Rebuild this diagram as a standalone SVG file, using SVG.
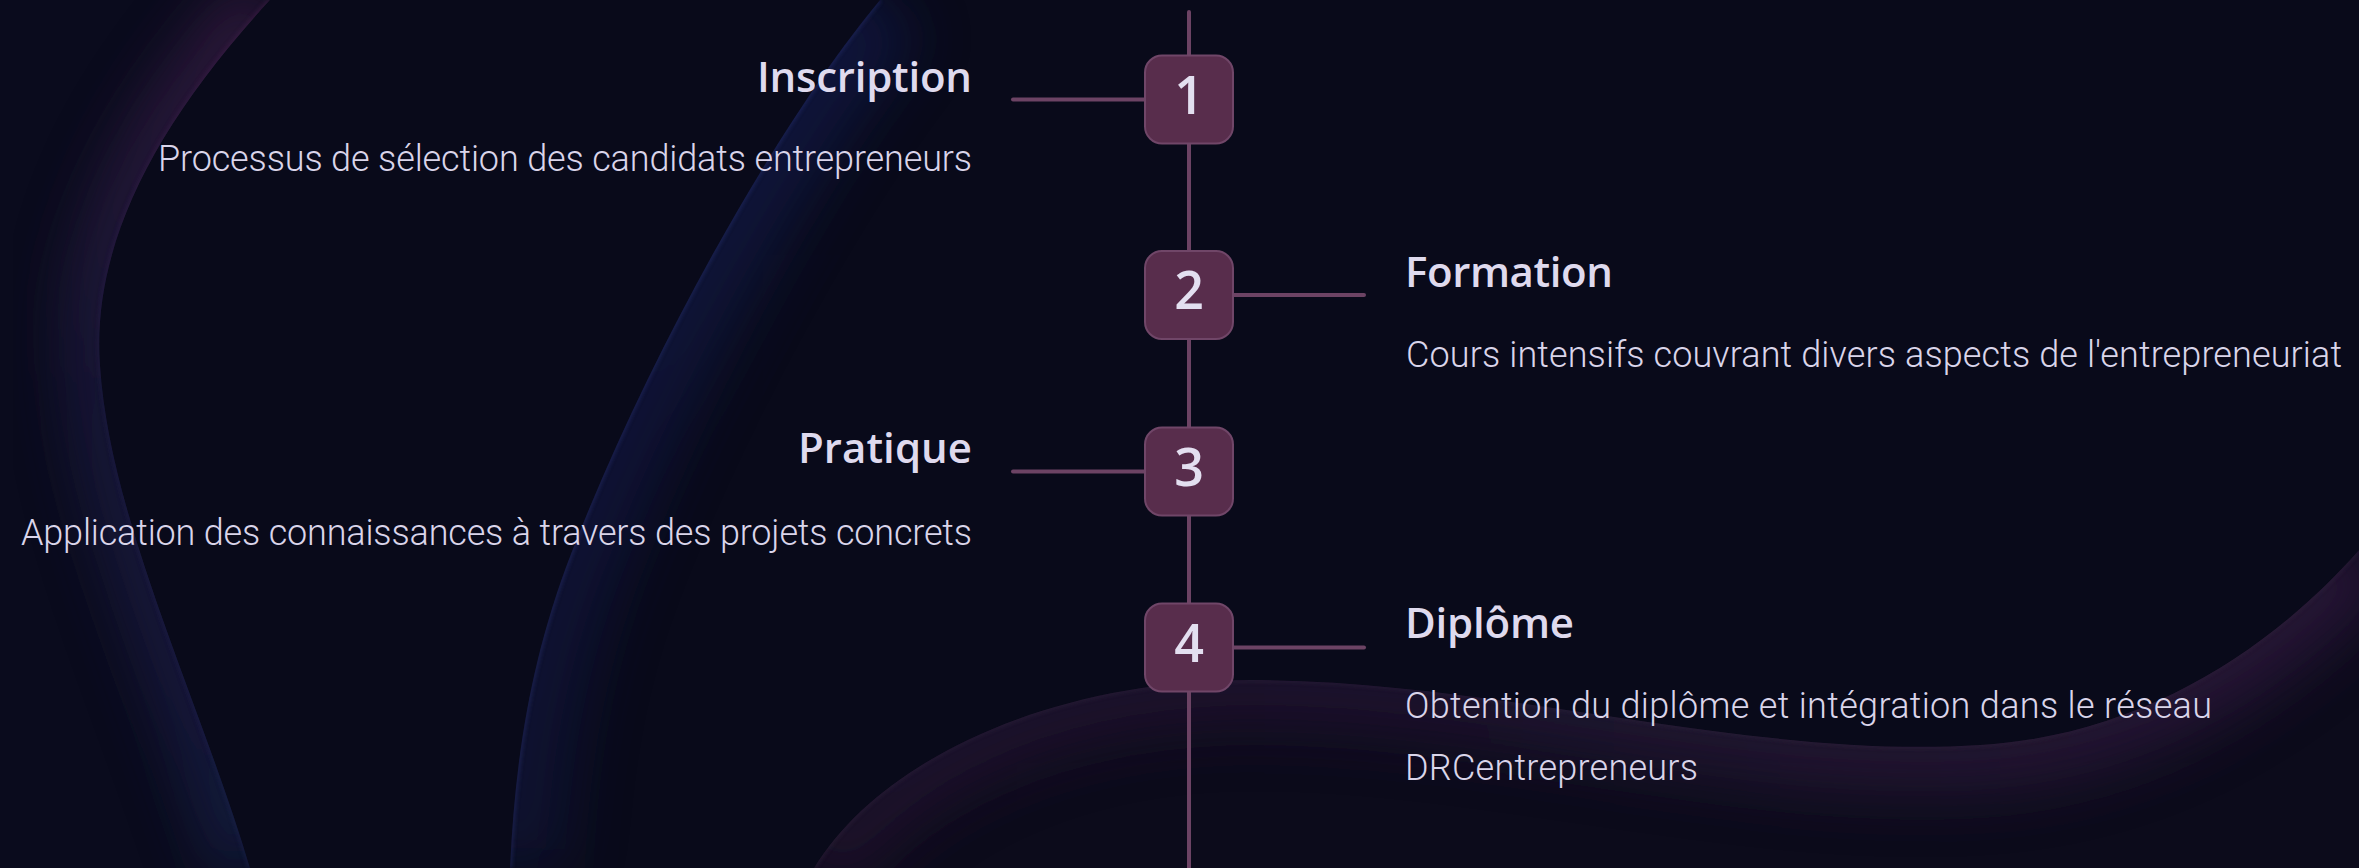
<svg xmlns="http://www.w3.org/2000/svg" width="2359" height="868" viewBox="0 0 2359 868">
<defs>
<style>
.title{font-family:"Open Sans","Liberation Sans",sans-serif;font-weight:600;font-size:42px;fill:#dfdaee}
.desc{font-family:"Roboto","Open Sans",sans-serif;font-weight:300;font-size:36px;fill:#dad5ea}
.num{font-family:"Open Sans","Liberation Sans",sans-serif;font-weight:600;font-size:52px;fill:#e3dff0;text-anchor:middle}
.box{fill:#582d4c;stroke:#704668;stroke-width:2}
.conn{stroke:#6c4364;stroke-width:4;stroke-linecap:round;fill:none}
</style>
<filter id="blurL" x="-50%" y="-50%" width="200%" height="200%"><feGaussianBlur stdDeviation="30"/></filter>
<filter id="blurS" x="-50%" y="-50%" width="200%" height="200%"><feGaussianBlur stdDeviation="2"/></filter>
<linearGradient id="gLeft" x1="0" y1="0" x2="0" y2="1">
<stop offset="0" stop-color="#4a2450"/>
<stop offset="0.45" stop-color="#231f4c"/>
<stop offset="1" stop-color="#1e2654"/>
</linearGradient>
<linearGradient id="gMid" x1="0" y1="0" x2="0" y2="1">
<stop offset="0" stop-color="#182462"/>
<stop offset="1" stop-color="#141a48"/>
</linearGradient>
<linearGradient id="gBot" x1="0" y1="0" x2="1" y2="0">
<stop offset="0" stop-color="#2a1636"/>
<stop offset="0.5" stop-color="#2c1a3c"/>
<stop offset="1" stop-color="#3a1e48"/>
</linearGradient>
<clipPath id="cLeft"><path d="M0,0 L270,0 C150,130 92,250 100,365 C110,520 200,700 250,868 L0,868 Z"/></clipPath>
<clipPath id="cMid"><path d="M880,0 C780,120 650,350 571,554 C530,660 515,760 510,868 L1500,868 L1500,0 Z"/></clipPath>
<clipPath id="cBot"><path d="M814,868 C880,760 1050,680 1250,680 C1500,680 1750,760 1980,745 C2150,735 2280,640 2359,550 L2359,868 Z"/></clipPath>
</defs>
<rect width="2359" height="868" fill="#090a1a"/>
<g id="background">
<path d="M0,0 L270,0 C150,130 92,250 100,365 C110,520 200,700 250,868 L0,868 Z" fill="#0a0b1d"/>
<g clip-path="url(#cLeft)">
<path d="M270,0 C150,130 92,250 100,365 C110,520 200,700 250,868" stroke="url(#gLeft)" stroke-width="70" fill="none" filter="url(#blurL)" opacity="0.6"/>
<path d="M270,0 C150,130 92,250 100,365 C110,520 200,700 250,868" stroke="url(#gLeft)" stroke-width="4" fill="none" filter="url(#blurS)" opacity="0.5"/>
</g>
<g clip-path="url(#cMid)">
<path d="M880,0 C780,120 650,350 571,554 C530,660 515,760 510,868" stroke="url(#gMid)" stroke-width="110" fill="none" filter="url(#blurL)" opacity="0.45"/>
<path d="M880,0 C780,120 650,350 571,554 C530,660 515,760 510,868" stroke="#2c3678" stroke-width="3" fill="none" filter="url(#blurS)" opacity="0.6"/>
</g>
<path d="M814,868 C880,760 1050,680 1250,680 C1500,680 1750,760 1980,745 C2150,735 2280,640 2359,550 L2359,868 Z" fill="#0c0b1b"/>
<g clip-path="url(#cBot)">
<path d="M814,868 C880,760 1050,680 1250,680 C1500,680 1750,760 1980,745 C2150,735 2280,640 2359,550" stroke="url(#gBot)" stroke-width="90" fill="none" filter="url(#blurL)" opacity="0.6"/>
<path d="M814,868 C880,760 1050,680 1250,680 C1500,680 1750,760 1980,745 C2150,735 2280,640 2359,550" stroke="#33283f" stroke-width="3" fill="none" filter="url(#blurS)" opacity="0.6"/>
</g>
</g>
<g id="connectors">
<line class="conn" x1="1189" y1="12" x2="1189" y2="870"/>
<line class="conn" x1="1013" y1="99.5" x2="1145" y2="99.5"/>
<line class="conn" x1="1233" y1="295" x2="1364" y2="295"/>
<line class="conn" x1="1013" y1="471.5" x2="1145" y2="471.5"/>
<line class="conn" x1="1233" y1="647.5" x2="1364" y2="647.5"/>
</g>
<g id="step1">
<rect class="box" x="1145" y="55.5" width="88" height="88" rx="17"/>
<text class="num" x="1189" y="113.5">1</text>
<text class="title" x="972" y="91.5" text-anchor="end" textLength="215">Inscription</text>
<text class="desc" x="972" y="171" text-anchor="end" textLength="814">Processus de sélection des candidats entrepreneurs</text>
</g>
<g id="step2">
<rect class="box" x="1145" y="251" width="88" height="88" rx="17"/>
<text class="num" x="1189" y="309">2</text>
<text class="title" x="1405" y="287.3" textLength="208">Formation</text>
<text class="desc" x="1406" y="367.3" textLength="936">Cours intensifs couvrant divers aspects de l'entrepreneuriat</text>
</g>
<g id="step3">
<rect class="box" x="1145" y="427.5" width="88" height="88" rx="17"/>
<text class="num" x="1189" y="485.5">3</text>
<text class="title" x="972" y="463.3" text-anchor="end" textLength="174">Pratique</text>
<text class="desc" x="972" y="545" text-anchor="end" textLength="951">Application des connaissances à travers des projets concrets</text>
</g>
<g id="step4">
<rect class="box" x="1145" y="603.5" width="88" height="88" rx="17"/>
<text class="num" x="1189" y="661.5">4</text>
<text class="title" x="1405" y="638.3" textLength="169">Diplôme</text>
<text class="desc" x="1405" y="718.3" textLength="807">Obtention du diplôme et intégration dans le réseau</text>
<text class="desc" x="1405" y="780" textLength="293">DRCentrepreneurs</text>
</g>
</svg>
